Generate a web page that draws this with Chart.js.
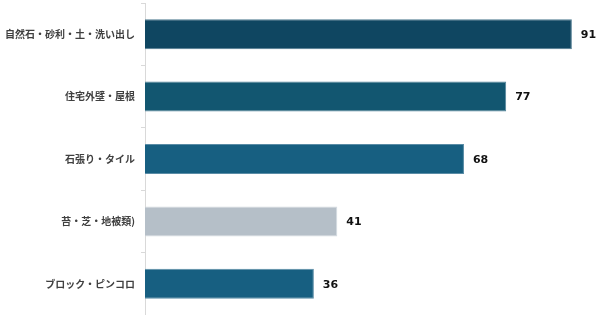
<!DOCTYPE html>
<html>
<head>
<meta charset="utf-8">
<script src="https://cdn.jsdelivr.net/npm/chart.js@4/dist/chart.umd.min.js"></script>
<style>
  html, body { margin: 0; padding: 0; background: #fff; }
  canvas { display: block; }
</style>
</head>
<body>
<canvas id="chart" width="600" height="315"></canvas>
<script>
const categories = ['自然石・砂利・土・洗い出し', '住宅外壁・屋根', '石張り・タイル', '苔・芝・地被類)', 'ブロック・ピンコロ'];
const values = [91, 77, 68, 41, 36];
const barColors = ['#0f4661', '#125670', '#175f81', '#b5bfc8', '#175f81'];
const edgeColors = ['#4f7a90', '#53849a', '#5a8ca6', '#d3dae0', '#5a8ca6'];

// draw the number just right of each bar
const valueLabels = {
    id: 'valueLabels',
    afterDatasetsDraw(chart) {
        const ctx = chart.ctx;
        const meta = chart.getDatasetMeta(0);
        ctx.save();
        ctx.font = 'bold 11px "DejaVu Sans", Verdana, sans-serif';
        ctx.fillStyle = '#111';
        ctx.textBaseline = 'middle';
        meta.data.forEach((bar, i) => {
            ctx.fillText(values[i], bar.x + 9, bar.y + 1);
        });
        ctx.restore();
    }
};

const ctx = document.getElementById('chart').getContext('2d');
new Chart(ctx, {
    type: 'bar',
    data: {
        labels: categories,
        datasets: [{
            data: values,
            backgroundColor: barColors,
            borderColor: edgeColors,
            borderWidth: 1,
            borderSkipped: 'left',
            barPercentage: 0.48,
            categoryPercentage: 1
        }]
    },
    options: {
        indexAxis: 'y',
        responsive: false,
        animation: false,
        layout: { padding: { top: 3, right: 0, bottom: 0, left: 0 } },
        plugins: {
            legend: { display: false },
            tooltip: { enabled: false }
        },
        scales: {
            x: {
                display: false,
                min: 0,
                max: 97
            },
            y: {
                afterFit: s => {
                    s.width = 145;
                    s.paddingTop = 0;
                    s.paddingBottom = 0;
                },
                grid: {
                    drawOnChartArea: false,
                    tickLength: 4,
                    color: '#d9d9d9'
                },
                border: { color: '#d9d9d9' },
                ticks: {
                    padding: 6,
                    color: '#404040',
                    font: { family: '"Noto Sans CJK JP", sans-serif', size: 10, weight: 'bold' }
                }
            }
        }
    },
    plugins: [valueLabels]
});
</script>
</body>
</html>
